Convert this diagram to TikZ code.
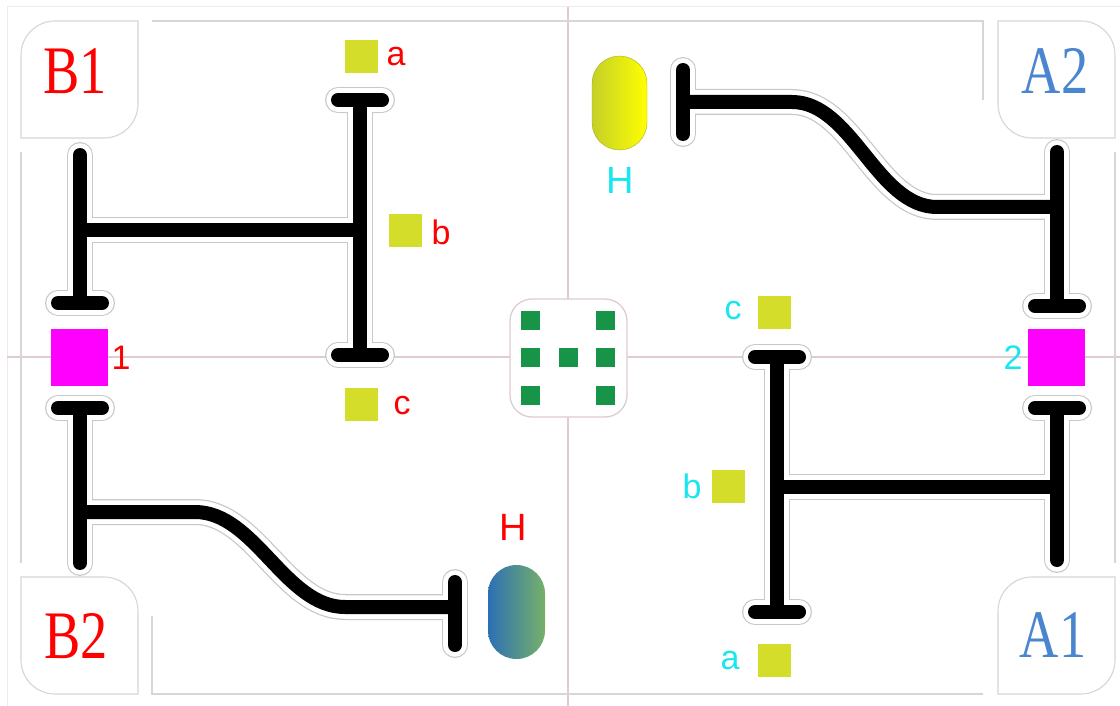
\documentclass[tikz,border=0pt]{standalone}
\usepackage{fontspec}
\setmainfont{Liberation Sans}
\newfontfamily\cornerfont{Liberation Serif}

\definecolor{framegray}{RGB}{214,214,214}
\definecolor{outergray}{RGB}{236,236,236}
\definecolor{axispink}{RGB}{222,204,210}
\definecolor{padyellow}{RGB}{212,221,41}
\definecolor{portmag}{RGB}{255,0,255}
\definecolor{dotgreen}{RGB}{24,148,72}
\definecolor{labcyan}{RGB}{24,230,240}
\definecolor{labblue}{RGB}{74,134,207}
\definecolor{haloline}{RGB}{200,200,200}
\definecolor{capblueL}{RGB}{44,112,180}
\definecolor{capblueR}{RGB}{118,176,106}
\definecolor{capyelL}{RGB}{196,208,40}
\definecolor{capyelR}{RGB}{255,255,0}

% the black track network, drawn once per layer (outline, halo, rail)
\newcommand\trackpaths{%
  % B1 junction
  \draw (80,155) -- (80,303);
  \draw (58,303) -- (102,303);
  \draw (80,230) -- (360,230);
  \draw (360,100) -- (360,355);
  \draw (338,100) -- (382,100);
  \draw (338,355) -- (382,355);
  % B2 branch with S-bend
  \draw (58,408) -- (102,408);
  \draw (80,408) -- (80,563);
  \draw (80,512) -- (195,512) .. controls (255,512) and (285,607) .. (345,607) -- (455,607);
  \draw (455,582) -- (455,645);
  % A2 branch with S-bend
  \draw (1057,152) -- (1057,306);
  \draw (1035,306) -- (1079,306);
  \draw (1057,207) -- (937,207) .. controls (877,207) and (852,102) .. (792,102) -- (683,102);
  \draw (683,70) -- (683,134);
  % A1 junction
  \draw (1035,408) -- (1079,408);
  \draw (1057,408) -- (1057,560);
  \draw (777,487) -- (1057,487);
  \draw (777,357) -- (777,612);
  \draw (755,357) -- (799,357);
  \draw (755,612) -- (799,612);
}

\begin{document}
\begin{tikzpicture}[x=1pt,y=-1pt,
  frame/.style={draw=framegray,line width=1.1},
  axis/.style={draw=axispink,line width=1.5},
  pad/.style={fill=padyellow,minimum size=33,inner sep=0},
  port/.style={fill=portmag,minimum size=57,inner sep=0},
  pip/.style={fill=dotgreen,minimum size=19,inner sep=0},
  letter/.style={inner sep=0,font=\fontsize{34}{34}\selectfont},
  bigletter/.style={inner sep=0,font=\fontsize{38}{38}\selectfont},
  corner/.style={inner sep=0},
]
\useasboundingbox (0,0) rectangle (1120,706);
\fill[white] (0,0) rectangle (1120,706);

% outer sheet edge
\draw[draw=outergray,line width=1] (7,706) -- (7,7) -- (1120,7);

% centre axes
\draw[axis] (568,7) -- (568,706);
\draw[axis] (7,357) -- (1120,357);

% inner border lines
\draw[frame] (21,152) -- (21,563);
\draw[frame] (152,21) -- (983,21) -- (983,100);
\draw[frame] (1115,152) -- (1115,563);
\draw[frame] (152,616) -- (152,694) -- (983,694);

% corner start boxes
\draw[frame,fill=white] (21,55) .. controls (21,36.2) and (36.2,21) .. (55,21) -- (138,21) -- (138,104) .. controls (138,122.8) and (122.8,138) .. (104,138) -- (21,138) -- cycle;
\draw[frame,fill=white] (998,21) -- (1081,21) .. controls (1099.8,21) and (1115,36.2) .. (1115,55) -- (1115,138) -- (1032,138) .. controls (1013.2,138) and (998,122.8) .. (998,104) -- cycle;
\draw[frame,fill=white] (21,577) -- (104,577) .. controls (122.8,577) and (138,592.2) .. (138,611) -- (138,694) -- (55,694) .. controls (36.2,694) and (21,678.8) .. (21,660) -- cycle;
\draw[frame,fill=white] (998,611) .. controls (998,592.2) and (1013.2,577) .. (1032,577) -- (1115,577) -- (1115,660) .. controls (1115,678.8) and (1099.8,694) .. (1081,694) -- (998,694) -- cycle;

\node[corner,text=red] (B1) at (75,71) {\scalebox{0.8}[1]{\cornerfont\fontsize{68}{68}\selectfont B1}};
\node[corner,text=labblue] (A2) at (1055,71) {\scalebox{0.8}[1]{\cornerfont\fontsize{68}{68}\selectfont A2}};
\node[corner,text=red] (B2) at (76,636) {\scalebox{0.8}[1]{\cornerfont\fontsize{68}{68}\selectfont B2}};
\node[corner,text=labblue] (A1) at (1053,635) {\scalebox{0.8}[1]{\cornerfont\fontsize{68}{68}\selectfont A1}};

% centre die
\draw[draw=axispink,line width=1.3,fill=white,rounded corners=22] (510,299) rectangle (627,417);
\foreach \p [count=\i] in {(530,320),(605,320),(530,357.5),(568,357.5),(605,357.5),(530,395),(605,395)}
  \node[pip] (pip\i) at \p {};

% track network: grey outline, white halo, black rail
\foreach \w/\c in {26/haloline,23.5/white,14/black}{
  \begin{scope}[line width=\w,color=\c,line cap=round,line join=round]
    \trackpaths
  \end{scope}
}

% ports
\node[port] (port1) at (79.5,357.5) {};
\node[letter,text=red] (n1) at (121,358) {1};
\node[port] (port2) at (1056.5,357.5) {};
\node[letter,text=labcyan] (n2) at (1013,358) {2};

% B-side pads
\node[pad] (Ba) at (361.5,56.5) {};
\node[letter,text=red] (Bal) at (396,57) {a};
\node[pad] (Bb) at (405.5,230.5) {};
\node[letter,text=red] (Bbl) at (441,232) {b};
\node[pad] (Bc) at (361.5,404) {};
\node[letter,text=red] (Bcl) at (402,406) {c};

% A-side pads
\node[pad] (Ac) at (774.5,312) {};
\node[letter,text=labcyan] (Acl) at (733,311) {c};
\node[pad] (Ab) at (728.5,486) {};
\node[letter,text=labcyan] (Abl) at (692,486) {b};
\node[pad] (Aa) at (774.5,660.5) {};
\node[letter,text=labcyan] (Aal) at (730,661) {a};

% home capsules
\path[left color=capyelL,right color=capyelR,draw=capyelL!85!black,line width=0.4,rounded corners=27.5] (592,56) rectangle (647,150);
\node[bigletter,text=labcyan] (HA) at (620,180) {H};
\path[left color=capblueL,right color=capblueR,rounded corners=28.5] (488,565) rectangle (545,659);
\node[bigletter,text=red] (HB) at (513,527) {H};
\end{tikzpicture}
\end{document}
